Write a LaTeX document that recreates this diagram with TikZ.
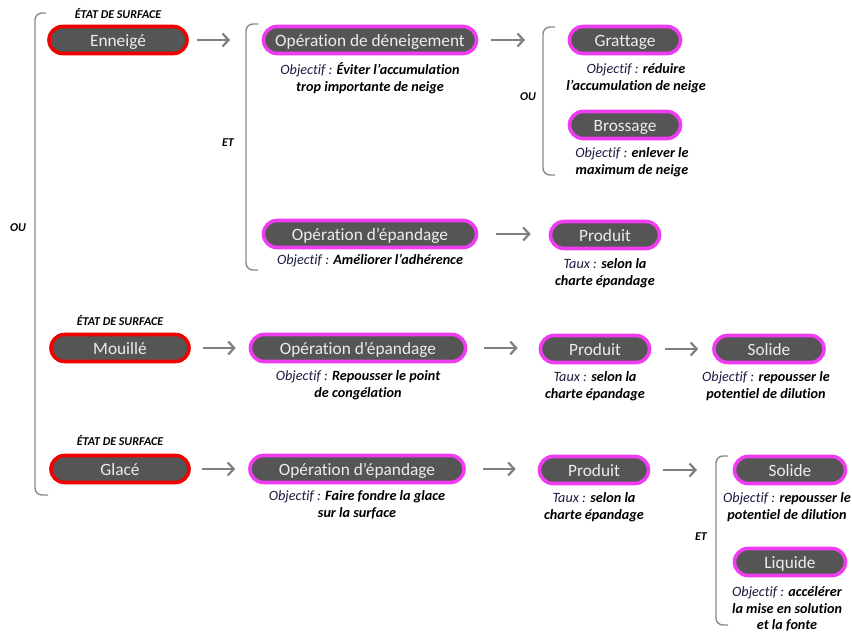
\documentclass[tikz,border=0pt]{standalone}
\usepackage{fontspec}
\setmainfont{Carlito}[Ligatures=NoCommon]
\usetikzlibrary{arrows.meta}
\definecolor{nodefill}{HTML}{555555}
\definecolor{redring}{HTML}{F00000}
\definecolor{magring}{HTML}{F03CF0}
\definecolor{objcol}{HTML}{1A1A40}
\definecolor{brk}{HTML}{8A8A8A}
\definecolor{arrcol}{HTML}{808080}
\newcommand{\obj}{{\mdseries\color{objcol}Objectif :} }
\newcommand{\tx}{{\mdseries\color{objcol}Taux :} }
\tikzset{
  base/.style={rounded corners=13.5, fill=nodefill, text=white!93!black, line width=3.6,
    minimum height=27, inner sep=0, text height=15.5, text depth=2.5,
    font=\fontsize{17.3}{19}\selectfont},
  state/.style={base, draw=redring, minimum width=138},
  opbox/.style={base, draw=magring},
  captxt/.style={align=center, font=\fontsize{14.2}{16.8}\selectfont\bfseries\itshape, inner sep=0},
  small/.style={font=\fontsize{12}{13}\selectfont\bfseries\itshape, inner sep=0},
  brack/.style={draw=brk, line width=1.4, rounded corners=7},
  arr/.style={draw=arrcol, line width=2.6, -{Straight Barb[length=6,width=13,line width=2.2]}}
}
\begin{document}
\begin{tikzpicture}[x=1pt,y=-1pt]
\useasboundingbox (0,0) rectangle (852,637);
% brackets
\draw[brack] (46,13) -- (35,13) -- (35,495) -- (48,495);
\draw[brack] (258,24) -- (246,24) -- (246,270) -- (258,270);
\draw[brack] (555,27) -- (543,27) -- (543,175) -- (555,175);
\draw[brack] (728,456) -- (716,456) -- (716,625) -- (728,625);
\node[small] (ou1) at (18,228) {OU};
\node[small] (et1) at (228,143) {ET};
\node[small] (ou2) at (528,97) {OU};
\node[small] (et2) at (701,537) {ET};
% row 1
\node[small] (es1) at (118,14) {ÉTAT DE SURFACE};
\node[state] (enneige) at (118,40) {Enneigé};
\node[opbox, minimum width=213] (den) at (370,40) {Opération de déneigement};
\node[captxt] (cden) at (370,78) {\obj Éviter l’accumulation\\trop importante de neige};
\node[opbox, minimum width=111] (grat) at (625,40) {Grattage};
\node[captxt] (cgrat) at (636,78) {\obj réduire\\l’accumulation de neige};
\node[opbox, minimum width=111] (bros) at (625,125) {Brossage};
\node[captxt] (cbros) at (632,162) {\obj enlever le\\maximum de neige};
\node[opbox, minimum width=213] (ep1) at (370,234) {Opération d’épandage};
\node[captxt] (cep1) at (370,261) {\obj Améliorer l’adhérence};
\node[opbox, minimum width=109] (prod1) at (605,235) {Produit};
\node[captxt] (cprod1) at (605,273) {\tx selon la\\charte épandage};
\coordinate (b1) at (230,40);
\coordinate (b3) at (525,40);
\draw[arr, shorten <=8] (enneige.east) -- (b1);
\draw[arr, shorten <=13] (den.east) -- (b3);
\draw[arr, shorten <=18, shorten >=18] (ep1.east) -- (ep1.east -| prod1.west);
% row 2
\node[small] (es2) at (120,321) {ÉTAT DE SURFACE};
\node[state] (mouille) at (120,348) {Mouillé};
\node[opbox, minimum width=215] (ep2) at (358,348) {Opération d’épandage};
\node[captxt] (cep2) at (358,385) {\obj Repousser le point\\de congélation};
\node[opbox, minimum width=109] (prod2) at (595,349) {Produit};
\node[captxt] (cprod2) at (595,386) {\tx selon la\\charte épandage};
\node[opbox, minimum width=110] (sol2) at (769,349) {Solide};
\node[captxt] (csol2) at (766,386) {\obj repousser le\\potentiel de dilution};
\draw[arr, shorten <=12, shorten >=13] (mouille.east) -- (ep2.west);
\draw[arr, shorten <=17, shorten >=21] (ep2.east) -- (ep2.east -| prod2.west);
\draw[arr, shorten <=14, shorten >=14] (prod2.east) -- (prod2.east -| sol2.west);
% row 3
\node[small] (es3) at (120,441) {ÉTAT DE SURFACE};
\node[state] (glace) at (120,469) {Glacé};
\node[opbox, minimum width=214] (ep3) at (357,469) {Opération d’épandage};
\node[captxt] (cep3) at (357,505) {\obj Faire fondre la glace\\sur la surface};
\node[opbox, minimum width=109] (prod3) at (594,470) {Produit};
\node[captxt] (cprod3) at (594,507) {\tx selon la\\charte épandage};
\node[opbox, minimum width=111] (sol3) at (790,470) {Solide};
\node[captxt] (csol3) at (787,507) {\obj repousser le\\potentiel de dilution};
\node[opbox, minimum width=111] (liq) at (790,562) {Liquide};
\node[captxt] (cliq) at (787,609) {\obj accélérer\\la mise en solution\\et la fonte};
\coordinate (b4) at (697,470);
\draw[arr, shorten <=11, shorten >=13] (glace.east) -- (ep3.west);
\draw[arr, shorten <=17, shorten >=22] (ep3.east) -- (ep3.east -| prod3.west);
\draw[arr, shorten <=13] (prod3.east) -- (b4);
\end{tikzpicture}
\end{document}
